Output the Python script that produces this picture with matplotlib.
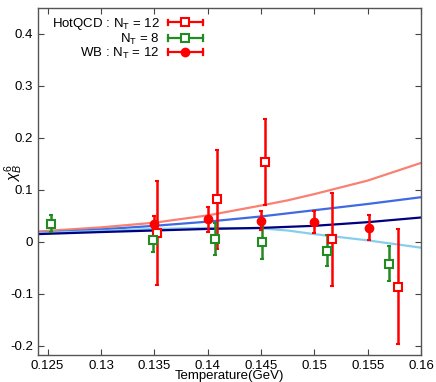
import matplotlib
matplotlib.use("Agg")
import matplotlib.pyplot as plt
from matplotlib.lines import Line2D
from matplotlib.legend_handler import HandlerBase

plt.rcParams['font.family'] = ['Liberation Sans', 'DejaVu Sans']
plt.rcParams['mathtext.fontset'] = 'custom'
plt.rcParams['mathtext.rm'] = 'Liberation Sans'
plt.rcParams['mathtext.it'] = 'Liberation Sans:italic'

# HotQCD N_T = 12 (open red squares)
hq12_T = [0.1353, 0.1409, 0.1454, 0.1517, 0.1578]
hq12_v = [0.017, 0.082, 0.154, 0.005, -0.086]
hq12_e = [0.100, 0.095, 0.083, 0.090, 0.110]

# HotQCD N_T = 8 (open green squares)
hq8_T = [0.1253, 0.1349, 0.1407, 0.1451, 0.1512, 0.1570]
hq8_v = [0.035, 0.004, 0.006, -0.001, -0.017, -0.042]
hq8_e = [0.016, 0.024, 0.031, 0.032, 0.030, 0.034]

# WB N_T = 12 (filled red circles)
wb_T = [0.1350, 0.1400, 0.1450, 0.1500, 0.1551]
wb_v = [0.034, 0.044, 0.041, 0.038, 0.027]
wb_e = [0.015, 0.024, 0.018, 0.021, 0.024]

# Model curves
curve_T = [0.124, 0.130, 0.135, 0.140, 0.145, 0.1475, 0.150, 0.155, 0.160]
salmon_v = [0.020, 0.028, 0.037, 0.051, 0.070, 0.080, 0.092, 0.118, 0.152]
royal_v = [0.017, 0.024, 0.031, 0.039, 0.049, 0.055, 0.061, 0.073, 0.086]
sky_v = [0.017, 0.021, 0.025, 0.027, 0.026, 0.022, 0.015, 0.003, -0.011]
navy_v = [0.015, 0.019, 0.022, 0.025, 0.027, 0.029, 0.031, 0.038, 0.047]

xticks = [0.125, 0.13, 0.135, 0.14, 0.145, 0.15, 0.155, 0.16]
xticklabels = ['0.125', '0.13', '0.135', '0.14', '0.145', '0.15', '0.155', '0.16']
yticks = [-0.2, -0.1, 0.0, 0.1, 0.2, 0.3, 0.4]
yticklabels = ['-0.2', '-0.1', '0', '0.1', '0.2', '0.3', '0.4']
legend_labels = [r'HotQCD : N$_\mathrm{T}$ = 12', r'N$_\mathrm{T}$ = 8', r'WB : N$_\mathrm{T}$ = 12']


class GnuErrHandler(HandlerBase):
    """Horizontal bar with end caps and a marker in the middle (gnuplot style key)."""
    def __init__(self, color, marker, mfc):
        super().__init__()
        self.color = color
        self.marker = marker
        self.mfc = mfc

    def create_artists(self, legend, orig_handle, xdescent, ydescent, width, height, fontsize, trans):
        y = height / 2 - ydescent
        x0, x1 = -xdescent, -xdescent + width
        cap = 2.0
        arts = [
            Line2D([x0, x1], [y, y], color=self.color, lw=1.6, transform=trans),
            Line2D([x0, x0], [y - cap, y + cap], color=self.color, lw=1.6, transform=trans),
            Line2D([x1, x1], [y - cap, y + cap], color=self.color, lw=1.6, transform=trans),
            Line2D([(x0 + x1) / 2], [y], marker=self.marker, color=self.color,
                   mfc=self.mfc, mec=self.color, ms=5.5, mew=1.5, lw=0, transform=trans),
        ]
        return arts


fig = plt.figure(figsize=(4.36, 3.82), dpi=100)
ax = fig.add_axes([38/436, 1-355/382, (421-38)/436, (355-8)/382])

lw = 1.6
ax.plot(curve_T, salmon_v, color='#fa8072', lw=lw, zorder=2)
ax.plot(curve_T, royal_v, color='#4169e1', lw=lw, zorder=2)
ax.plot(curve_T, sky_v, color='#87ceeb', lw=lw, zorder=2)
ax.plot(curve_T, navy_v, color='#000080', lw=lw, zorder=2)

common = dict(capsize=1.5, elinewidth=1.8, capthick=1.6, lw=0, markersize=5.5, mew=1.5, zorder=3)
h1 = ax.errorbar(hq12_T, hq12_v, yerr=hq12_e, fmt='s', color='red', mfc='white', mec='red', **common)
h2 = ax.errorbar(hq8_T, hq8_v, yerr=hq8_e, fmt='s', color='#228b22', mfc='white', mec='#228b22', **common)
h3 = ax.errorbar(wb_T, wb_v, yerr=wb_e, fmt='o', color='red', mfc='red', mec='red', **common)

ax.set_xlim(0.1241, 0.16)
ax.set_ylim(-0.2175, 0.45)
ax.set_xticks(xticks)
ax.set_xticklabels(xticklabels)
ax.set_yticks(yticks)
ax.set_yticklabels(yticklabels)
ax.tick_params(direction='in', top=True, right=True, length=4, width=0.8, labelsize=9.5, color='#444444')
for s in ax.spines.values():
    s.set_color('#555555')
    s.set_linewidth(1.0)

ax.set_xlabel('Temperature(GeV)', fontsize=9.5, labelpad=-1)
ax.text(-0.063, 0.525, r'$\chi^6_B$', rotation=90, transform=ax.transAxes,
        fontsize=11, ha='center', va='center')

leg = ax.legend([h1, h2, h3], legend_labels,
                handler_map={h1: GnuErrHandler('red', 's', 'white'),
                             h2: GnuErrHandler('#228b22', 's', 'white'),
                             h3: GnuErrHandler('red', 'o', 'red')},
                loc='upper left', bbox_to_anchor=(0.01, 1.005), markerfirst=False, frameon=False,
                fontsize=9.5, handlelength=2.7, handletextpad=0.6, labelspacing=-0.05,
                handleheight=0.5, borderaxespad=0.35)
for t in leg.get_texts():
    t.set_ha('right')
leg._legend_box.align = 'right'

fig.savefig('out.png', dpi=100)
